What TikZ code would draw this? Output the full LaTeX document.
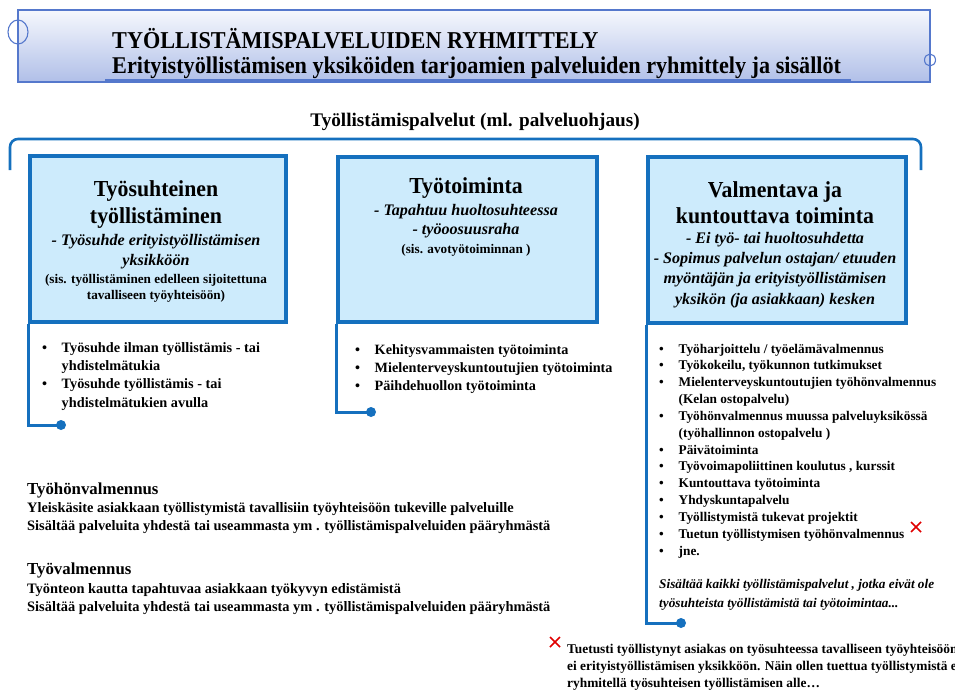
\documentclass[tikz,border=0pt]{standalone}
\usepackage{fontspec}
\setmainfont{Liberation Serif}
\usetikzlibrary{calc}
\definecolor{bannertop}{HTML}{F6F8FD}
\definecolor{bannerbot}{HTML}{B0BFE8}
\definecolor{bannerline}{HTML}{5578CC}
\definecolor{boxblue}{HTML}{1570BE}
\definecolor{boxfill}{HTML}{CDEBFC}
\definecolor{xred}{HTML}{E00000}
\tikzset{
  blueline/.style={draw=boxblue, line width=3pt},
  bracketline/.style={draw=boxblue, line width=2.6pt, rounded corners=8pt},
  catbox/.style={draw=boxblue, fill=boxfill, line width=3.6pt, rectangle, inner sep=0pt, anchor=north west},
  bigt/.style={font=\fontsize{21.8}{24}\selectfont\bfseries, inner sep=0pt, anchor=base},
  ital/.style={font=\fontsize{16.1}{18}\selectfont\bfseries\itshape, inner sep=0pt, anchor=base},
  smallt/.style={font=\fontsize{13.2}{15}\selectfont\bfseries, inner sep=0pt, anchor=base},
  listt/.style 2 args={font=\fontsize{#1}{#2}\selectfont\bfseries, inner sep=0pt, anchor=base west, align=left},
  plain/.style={font=\fontsize{14.4}{16}\selectfont\bfseries, inner sep=0pt, anchor=base west},
  headt/.style={font=\fontsize{16.8}{18}\selectfont\bfseries, inner sep=0pt, anchor=base west},
  bannert/.style={font=\fontsize{22.2}{24}\selectfont\bfseries, inner sep=0pt, anchor=base west},
  dotend/.style={fill=boxblue},
  redx/.style={draw=xred, line width=1.5pt},
}
\newcommand{\blist}[1]{\begin{tabular}[t]{@{}p{19.5pt}@{}l@{}}#1\end{tabular}}
\newcommand{\tlines}[1]{\begin{tabular}[t]{@{}l@{}}#1\end{tabular}}
\newcommand{\vst}[2][1.05]{\scalebox{1}[#1]{#2}}
\begin{document}
\begin{tikzpicture}[x=1pt,y=-1pt]
\useasboundingbox (0,0) rectangle (955,691);
\clip (0,0) rectangle (955,691);

% banner
\shade[top color=bannertop, bottom color=bannerbot] (18,10) rectangle (930,82);
\draw[bannerline, line width=1.3pt] (18,10) rectangle (930,82);
\draw[bannerline, line width=1.1pt] (18,32) ellipse [x radius=10, y radius=12];
\draw[bannerline, line width=1.1pt] (930,60) ellipse [x radius=5.5, y radius=6];
\node[bannert] (t1) at (112,48.5) {\vst[1.09]{TYÖLLISTÄMISPALVELUIDEN RYHMITTELY}};
\node[bannert] (t2) at (112,73.5) {\vst[1.08]{Erityistyöllistämisen yksiköiden tarjoamien palveluiden ryhmittely ja sisällöt}};
\draw[bannerline, line width=1.3pt] (105,80) -- (851,80);

% top bracket
\node[font=\fontsize{19.2}{21}\selectfont\bfseries, inner sep=0pt, anchor=base] (main) at (475,126) {Työllistämispalvelut (ml. palveluohjaus)};
\coordinate (brL) at (10,170);
\coordinate (brTop) at (465,139);
\coordinate (brR) at (921,170);
\draw[bracketline] (brL) |- (brTop) -| (brR);

% boxes
\node[catbox, minimum width=256pt, minimum height=166pt] (b1) at (28,154) {};
\node[catbox, minimum width=259pt, minimum height=165pt] (b2) at (336,155) {};
\node[catbox, minimum width=258pt, minimum height=166pt] (b3) at (646,155) {};

% leaders
\coordinate (d1) at (61,425);
\coordinate (d2) at (371,412);
\coordinate (d3) at (681,623);
\draw[blueline] (b1.south west) |- (d1);
\draw[blueline] (b2.south west) |- (d2);
\draw[blueline] (b3.south west) |- (d3);
\fill[dotend] (d1) circle (5);
\fill[dotend] (d2) circle (5);
\fill[dotend] (d3) circle (5);

% box 1 text
\node[bigt] (b1a) at (156,196) {\vst{Työsuhteinen}};
\node[bigt] (b1b) at (156,223) {\vst{työllistäminen}};
\node[ital] (b1c) at (156,245) {- Työsuhde erityistyöllistämisen};
\node[ital] (b1d) at (156,265) {yksikköön};
\node[smallt] (b1e) at (156,283) {(sis. työllistäminen edelleen sijoitettuna};
\node[smallt] (b1f) at (156,299) {tavalliseen työyhteisöön)};
\node[listt={14.3}{18.4}] (l1) at (42,352) {\blist{•&Työsuhde ilman työllistämis - tai\\ &yhdistelmätukia\\ •&Työsuhde työllistämis - tai\\ &yhdistelmätukien avulla}};

% box 2 text
\node[bigt] (b2a) at (466,193) {\vst{Työtoiminta}};
\node[ital] (b2b) at (466,215) {- Tapahtuu huoltosuhteessa};
\node[ital] (b2c) at (466,234) {- työoosuusraha};
\node[smallt] (b2d) at (466,253) {(sis. avotyötoiminnan )};
\node[listt={14.2}{18}] (l2) at (355,354) {\blist{•&Kehitysvammaisten työtoiminta\\ •&Mielenterveyskuntoutujien työtoiminta\\ •&Päihdehuollon työtoiminta}};

% box 3 text
\node[bigt] (b3a) at (775,197) {\vst{Valmentava ja}};
\node[bigt] (b3b) at (775,223) {\vst{kuntouttava toiminta}};
\node[ital] (b3c) at (775,243) {- Ei työ- tai huoltosuhdetta};
\node[ital] (b3d) at (775,263) {- Sopimus palvelun ostajan/ etuuden};
\node[ital] (b3e) at (775,283) {myöntäjän ja erityistyöllistämisen};
\node[ital] (b3f) at (775,304) {yksikön (ja asiakkaan) kesken};
\node[listt={13.3}{16.85}] (l3) at (659,353) {\blist{•&Työharjoittelu / työelämävalmennus\\ •&Työkokeilu, työkunnon tutkimukset\\ •&Mielenterveyskuntoutujien työhönvalmennus\\ &(Kelan ostopalvelu)\\ •&Työhönvalmennus muussa palveluyksikössä\\ &(työhallinnon ostopalvelu )\\ •&Päivätoiminta\\ •&Työvoimapoliittinen koulutus , kurssit\\ •&Kuntouttava työtoiminta\\ •&Yhdyskuntapalvelu\\ •&Työllistymistä tukevat projektit\\ •&Tuetun työllistymisen työhönvalmennus\\ •&jne.}};
\node[font=\fontsize{13.25}{19}\selectfont\bfseries\itshape, inner sep=0pt, anchor=base west] (l3note) at (659,588) {\tlines{Sisältää kaikki työllistämispalvelut , jotka eivät ole\\työsuhteista työllistämistä tai työtoimintaa...}};

% red marks
\coordinate (x1) at (916,527);
\coordinate (x2) at (555,642);
\draw[redx] ($(x1)+(-5,-5)$) -- ($(x1)+(5,5)$) ($(x1)+(-5,5)$) -- ($(x1)+(5,-5)$);
\draw[redx] ($(x2)+(-5,-5)$) -- ($(x2)+(5,5)$) ($(x2)+(-5,5)$) -- ($(x2)+(5,-5)$);

% left notes
\node[headt] (h1) at (27,494) {Työhönvalmennus};
\node[plain] (h1a) at (27,512) {Yleiskäsite asiakkaan työllistymistä tavallisiin työyhteisöön tukeville palveluille};
\node[plain] (h1b) at (27,530) {Sisältää palveluita yhdestä tai useammasta ym . työllistämispalveluiden pääryhmästä};
\node[headt] (h2) at (27,574) {Työvalmennus};
\node[plain] (h2a) at (27,593) {Työnteon kautta tapahtuvaa asiakkaan työkyvyn edistämistä};
\node[plain] (h2b) at (27,611) {Sisältää palveluita yhdestä tai useammasta ym . työllistämispalveluiden pääryhmästä};

% bottom note (cut off at the right edge, as in the reference)
\node[font=\fontsize{13.4}{17.2}\selectfont\bfseries, inner sep=0pt, anchor=base west] (note) at (567,653) {\tlines{Tuetusti työllistynyt asiakas on työsuhteessa tavalliseen työyhteisöön,\\ei erityistyöllistämisen yksikköön. Näin ollen tuettua työllistymistä ei\\ryhmitellä työsuhteisen työllistämisen alle…}};
\end{tikzpicture}
\end{document}
